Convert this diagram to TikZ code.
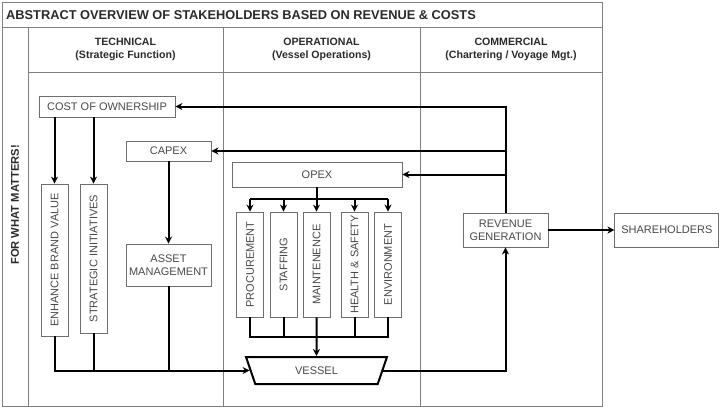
\documentclass[tikz,border=0pt]{standalone}
\usepackage{fontspec}
\setmainfont{Liberation Sans}
\usepackage{graphicx}
\usetikzlibrary{arrows.meta,positioning,shapes.geometric,calc}

\definecolor{framegray}{HTML}{808080}
\definecolor{boxgray}{HTML}{6E6E6E}
\definecolor{textgray}{HTML}{484848}
\definecolor{headgray}{HTML}{2A2A2A}

\begin{document}
\begin{tikzpicture}[
  x=1pt, y=-1pt, >={Stealth[length=7pt,width=7pt]},
  frame/.style={draw=framegray, line width=0.9pt},
  box/.style={draw=boxgray, line width=0.9pt, inner sep=0pt, align=center,
    text=textgray, font=\fontsize{11}{13}\selectfont},
  vbox/.style={box, minimum width=27pt},
  head/.style={align=center, text=headgray, inner sep=0pt,
    font=\bfseries\fontsize{10.6}{13}\selectfont},
  conn/.style={line width=2pt},
]
\useasboundingbox (0,0) rectangle (727,416);

% frame of the table
\draw[frame] (2,2) rectangle (602,406);
\draw[frame] (2,27) -- (602,27);
\draw[frame] (28,27) -- (28,406);
\draw[frame] (28,72) -- (602,72);
\draw[frame] (223,27) -- (223,406);
\draw[frame] (420,27) -- (420,406);

\node[anchor=west, inner sep=0pt, text=headgray, font=\bfseries\fontsize{12.8}{14}\selectfont]
  (title) at (6,15) {ABSTRACT OVERVIEW OF STAKEHOLDERS BASED ON REVENUE \& COSTS};
\node[head] (technical) at (125.5,49.5) {TECHNICAL\\(Strategic Function)};
\node[head] (operational) at (321.5,49.5) {OPERATIONAL\\(Vessel Operations)};
\node[head] (commercial) at (511,49.5) {COMMERCIAL\\(Chartering / Voyage Mgt.)};
\node[rotate=90, inner sep=0pt, text=headgray, font=\bfseries\fontsize{11.2}{13}\selectfont]
  (matters) at (15,205) {FOR WHAT MATTERS!};

% technical
\node[box, minimum width=136pt, minimum height=21pt] (cost) at (107,106.5) {COST OF OWNERSHIP};
\node[box, minimum width=85pt, minimum height=20pt] (capex) at (168.5,151) {CAPEX};
\node[box, minimum width=85pt, minimum height=42pt] (asset) at (168.5,265) {ASSET\\MANAGEMENT};
\node[vbox, minimum height=152pt] (enhance) at (54.5,260) {\rotatebox{90}{ENHANCE BRAND VALUE}};
\node[vbox, minimum height=149pt] (strategic) at (93.5,258.5) {\rotatebox{90}{STRATEGIC INITIATIVES}};

% operational
\node[box, minimum width=170pt, minimum height=25pt] (opex) at (317,174.5) {OPEX};
\node[vbox, minimum height=105pt] (procurement) at (250,264.5) {\rotatebox{90}{PROCUREMENT}};
\node[vbox, minimum height=105pt] (staffing) at (283.5,264.5) {\rotatebox{90}{STAFFING}};
\node[vbox, minimum height=105pt] (maintenence) at (316.5,264.5) {\rotatebox{90}{MAINTENENCE}};
\node[vbox, minimum height=105pt] (health) at (354.5,264.5) {\rotatebox{90}{HEALTH \& SAFETY}};
\node[vbox, minimum height=105pt] (environment) at (388,264.5) {\rotatebox{90}{ENVIRONMENT}};
\node[trapezium, draw=black, line width=2pt, text=textgray, font=\fontsize{11}{13}\selectfont,
  trapezium angle=67.5, shape border rotate=180, trapezium stretches=true,
  minimum width=141pt, minimum height=27pt, inner sep=0pt] (vessel) at (316.5,370.5) {VESSEL};

% commercial
\node[box, minimum width=85pt, minimum height=34pt] (revenue) at (505.5,230) {REVENUE\\GENERATION};
\node[box, minimum width=104pt, minimum height=34pt, right=66pt of revenue] (shareholders) {SHAREHOLDERS};

\coordinate (opexbus) at (317,199);
\coordinate (vesselbus) at (317,337);

\draw[conn,->] (revenue.north) |- (cost.east);
\draw[conn,->] (revenue.north |- capex.east) -- (capex.east);
\draw[conn,->] (revenue.north |- opex.east) -- (opex.east);
\draw[conn,->] (revenue.east) -- (shareholders.west);
\draw[conn,->] (vessel) -| (revenue.south);

\draw[conn,->] (cost.south -| enhance.north) -- (enhance.north);
\draw[conn,->] (cost.south -| strategic.north) -- (strategic.north);
\draw[conn,->] (capex) -- (asset);
\draw[conn,->] (enhance.south) |- (vessel);
\draw[conn] (strategic.south) -- (strategic.south |- vessel.center);
\draw[conn] (asset.south) -- (asset.south |- vessel.center);

\draw[conn] (opex.south) -- (opexbus);
\draw[conn] (opexbus -| procurement) -- (opexbus -| environment);
\draw[conn,->] (opexbus -| procurement) -- (procurement.north);
\draw[conn,->] (opexbus -| staffing) -- (staffing.north);
\draw[conn,->] (opexbus -| maintenence) -- (maintenence.north);
\draw[conn,->] (opexbus -| health) -- (health.north);
\draw[conn,->] (opexbus -| environment) -- (environment.north);

\draw[conn] (procurement.south) |- (vesselbus -| environment) -- (environment.south);
\draw[conn] (staffing.south) -- (staffing.south |- vesselbus);
\draw[conn] (health.south) -- (health.south |- vesselbus);
\draw[conn,->] (maintenence.south) -- (vessel);
\end{tikzpicture}
\end{document}
